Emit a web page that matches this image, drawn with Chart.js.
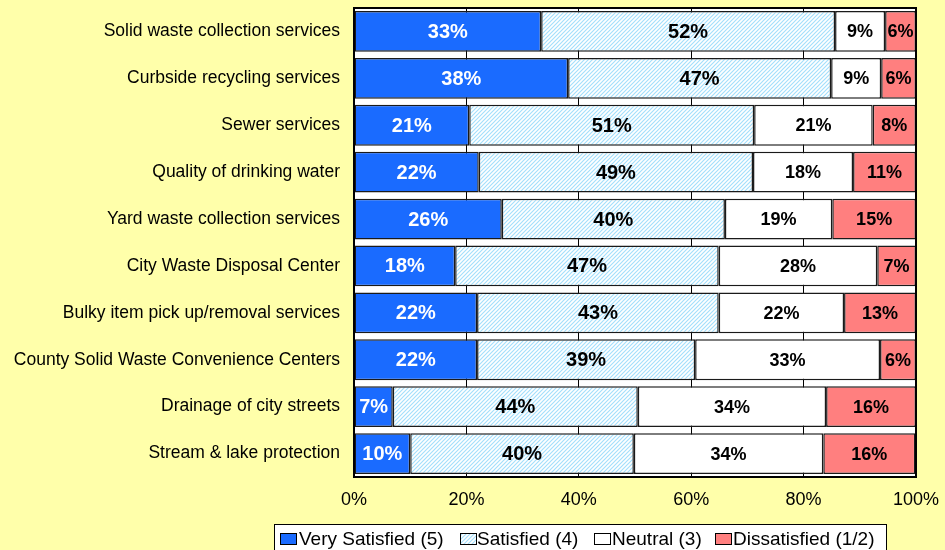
<!DOCTYPE html>
<html>
<head>
<meta charset="utf-8">
<script src="https://cdn.jsdelivr.net/npm/chart.js@4/dist/chart.umd.min.js"></script>
<style>
html,body{margin:0;padding:0;background:#FFFFAA;}
#wrap{position:relative;width:945px;height:550px;}
</style>
</head>
<body>
<div id="wrap"><canvas id="c" width="945" height="550"></canvas></div>
<script>
const categories = [
  "Solid waste collection services",
  "Curbside recycling services",
  "Sewer services",
  "Quality of drinking water",
  "Yard waste collection services",
  "City Waste Disposal Center",
  "Bulky item pick up/removal services",
  "County Solid Waste Convenience Centers",
  "Drainage of city streets",
  "Stream & lake protection"
];
const verySatisfied = [33.3, 38.1, 20.5, 22.2, 26.3, 18.0, 21.9, 21.9, 6.9, 10.0];
const satisfied     = [52.3, 46.8, 50.7, 48.8, 39.7, 46.9, 43.0, 38.8, 43.6, 39.8];
const neutral       = [8.9, 8.9, 21.1, 17.8, 19.1, 28.2, 22.3, 32.9, 33.5, 33.7];
const dissatisfied  = [5.5, 6.2, 7.7, 11.2, 14.9, 6.9, 12.8, 6.4, 16.0, 16.4];
const seriesNames = ["Very Satisfied (5)", "Satisfied (4)", "Neutral (3)", "Dissatisfied (1/2)"];
const xTicks = ["0%", "20%", "40%", "60%", "80%", "100%"];

const BG = '#FFFFAA';
const BLUE = '#1A6BFF';
const RED = '#FF7F7F';

function hatchPattern(ctx) {
  const p = document.createElement('canvas');
  p.width = 4; p.height = 4;
  const g = p.getContext('2d');
  g.fillStyle = '#ffffff';
  g.fillRect(0, 0, 4, 4);
  g.strokeStyle = '#a3dffc';
  g.lineWidth = 1.15;
  g.beginPath();
  g.moveTo(-1, 5); g.lineTo(5, -1);
  g.moveTo(-3, 3); g.lineTo(3, -3);
  g.moveTo(1, 7); g.lineTo(7, 1);
  g.stroke();
  return ctx.createPattern(p, 'repeat');
}

const canvas = document.getElementById('c');
const ctx = canvas.getContext('2d');
const hatch = hatchPattern(ctx);
const fills = [BLUE, hatch, '#ffffff', RED];

const plotBg = {
  id: 'plotBg',
  beforeDraw(chart) {
    const c = chart.ctx, a = chart.chartArea;
    c.save();
    c.fillStyle = BG;
    c.fillRect(0, 0, chart.width, chart.height);
    c.fillStyle = '#ffffff';
    c.fillRect(a.left, a.top, a.right - a.left, a.bottom - a.top);
    c.restore();
  },
  afterDatasetsDraw(chart) {
    const c = chart.ctx, a = chart.chartArea;
    c.save();
    c.textAlign = 'center';
    c.textBaseline = 'middle';
    chart.data.datasets.forEach((ds, di) => {
      const meta = chart.getDatasetMeta(di);
      meta.data.forEach((el, i) => {
        const v = ds.data[i];
        const p = el.getProps(['x', 'y', 'base'], true);
        const cx = (p.x + p.base) / 2;
        const big = di < 2;
        c.font = 'bold ' + (big ? 20 : 18) + 'px "Liberation Sans", Arial, sans-serif';
        c.fillStyle = di === 0 ? '#ffffff' : '#000000';
        c.fillText(Math.round(v) + '%', cx, p.y + 1);
      });
    });
    c.strokeStyle = '#000';
    c.lineWidth = 2;
    c.strokeRect(a.left, a.top, a.right - a.left, a.bottom - a.top);
    c.restore();
  },
  afterDraw(chart) {
    const c = chart.ctx;
    c.save();
    c.fillStyle = '#ffffff';
    c.fillRect(274.5, 524.5, 612, 30);
    c.strokeStyle = '#000';
    c.lineWidth = 1;
    c.strokeRect(274.5, 524.5, 612, 30);
    c.font = '19px "Liberation Sans", Arial, sans-serif';
    c.textBaseline = 'middle';
    c.textAlign = 'left';
    const sw = [280, 460, 594, 715];
    const tx = [299, 477, 612, 733];
    seriesNames.forEach((n, k) => {
      c.fillStyle = fills[k];
      c.fillRect(sw[k] + 0.5, 533.5, 16, 11);
      c.strokeStyle = '#000';
      c.strokeRect(sw[k] + 0.5, 533.5, 16, 11);
      c.fillStyle = '#000';
      c.fillText(n, tx[k], 540);
    });
    c.restore();
  }
};

const mk = (label, data, k) => ({
  label, data,
  backgroundColor: fills[k],
  borderColor: '#1a1a1a',
  borderWidth: 1.5,
  borderSkipped: false,
  barPercentage: 0.87,
  categoryPercentage: 1.0
});

new Chart(ctx, {
  type: 'bar',
  data: {
    labels: categories,
    datasets: [
      mk(seriesNames[0], verySatisfied, 0),
      mk(seriesNames[1], satisfied, 1),
      mk(seriesNames[2], neutral, 2),
      mk(seriesNames[3], dissatisfied, 3)
    ]
  },
  options: {
    indexAxis: 'y',
    responsive: false,
    animation: false,
    layout: { padding: { left: 0, right: 29, top: 8, bottom: 0 } },
    plugins: { legend: { display: false }, tooltip: { enabled: false } },
    scales: {
      x: {
        stacked: true,
        min: 0, max: 100,
        afterBuildTicks(s) { s.ticks = xTicks.map((t, i) => ({ value: i * 20 })); },
        afterFit(s) { s.height = 73; s.paddingLeft = 0; s.paddingRight = 0; },
        grid: { color: '#000', lineWidth: 1, drawTicks: false },
        border: { display: false },
        ticks: {
          padding: 12,
          color: '#000',
          font: { family: '"Liberation Sans", Arial, sans-serif', size: 18 },
          callback: (v, i) => xTicks[i]
        }
      },
      y: {
        stacked: true,
        afterFit(s) { s.width = 354; s.paddingTop = 0; s.paddingBottom = 0; },
        grid: { display: false, drawTicks: false },
        border: { display: false },
        ticks: {
          padding: 14,
          color: '#000',
          font: { family: '"Liberation Sans", Arial, sans-serif', size: 17.5 }
        }
      }
    }
  },
  plugins: [plotBg]
});
</script>
</body>
</html>
